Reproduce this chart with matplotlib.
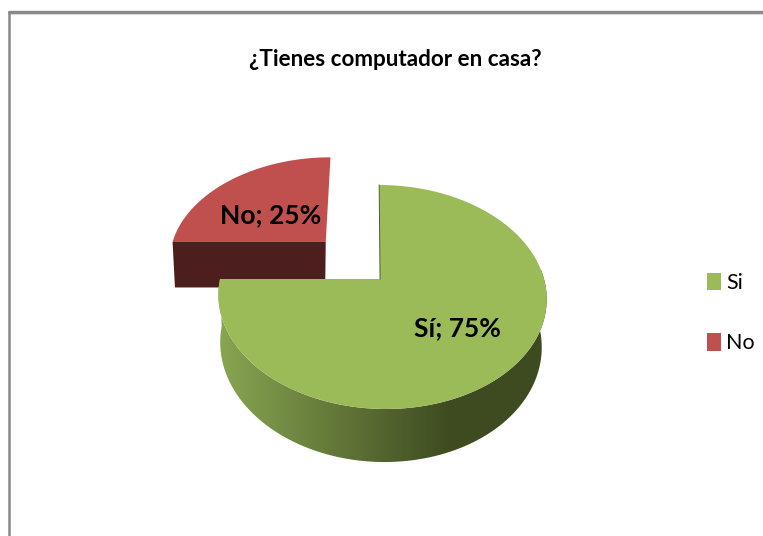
import numpy as np
import matplotlib
matplotlib.use("Agg")
import matplotlib.pyplot as plt
from matplotlib.patches import Patch, Polygon
from matplotlib.colors import LinearSegmentedColormap

titulo = "¿Tienes computador en casa?"
categorias = ["Si", "No"]
valores = [75, 25]
etiquetas = ["Sí; 75%", "No; 25%"]
colores = ["#9bbb59", "#c0504d"]

plt.rcParams['font.family'] = ['Lato', 'DejaVu Sans']

# perspectiva del disco
cx, cy = 382, 279
a, b = 162, 109.1
k, m = 0.1607, 0.0207
prof = 48.3
sesgo = 0.03


def proy(x, y, z=0.0):
    w = 1 + k*y + m*z
    sy = cy + (-b*y + prof*z)/w
    sx = cx + a*x/w + (sy - cy)*sesgo - 3*z
    return sx, sy


def arco(ini, fin, dx=0.0, dy=0.0, z=0.0, n=200):
    t = np.radians(np.linspace(ini, fin, n))
    return proy(dx + np.sin(t), dy + np.cos(t), z)


fig = plt.figure(figsize=(7.63, 5.36), dpi=100)
ax = fig.add_axes([0, 0, 1, 1])

# marco
ax.plot([9, 9], [536, 11], color="#888888", lw=1.8, solid_capstyle="butt")
ax.plot([8, 763], [11.5, 11.5], color="#888888", lw=2.4, solid_capstyle="butt")
ax.plot([11, 763], [13.5, 13.5], color="#d9d9d9", lw=0.8)

angulos = np.cumsum([0] + valores)/sum(valores)*360

# porcion No (separada)
dx, dy = -0.36, 0.359
ini, fin = angulos[1], angulos[2]
xa, ya = proy(dx, dy)
xb, yb = proy(dx, dy, 1)
xi, yi = arco(ini, ini, dx, dy, n=1)
xj, yj = arco(ini, ini, dx, dy, z=1, n=1)
ax.fill([xa, xi[0], xj[0], xb], [ya, yi[0], yj[0], yb], color="#4c1e1d", lw=0)
xs, ys = arco(ini, fin, dx, dy)
ax.fill(np.r_[xa, xs], np.r_[ya, ys], color=colores[1], lw=0)

# pared de la porcion Si, con degradado
ini, fin = angulos[0], angulos[1]
xt, yt = arco(ini, fin, n=400)
xf, yf = arco(ini, fin, z=1, n=400)
cmapa = LinearSegmentedColormap.from_list("pared", ["#87a451", "#3e4b20"])
grad = np.clip((np.arange(205, 555) - 222)/(450 - 222), 0, 1).reshape(1, -1)
im = ax.imshow(grad, cmap=cmapa, extent=(205, 555, 475, 270), aspect="auto", vmin=0, vmax=1, zorder=2)
borde = Polygon(np.c_[np.r_[xt, xf[::-1]], np.r_[yt, yf[::-1]]], closed=True,
                transform=ax.transData, fc="none", ec="none")
ax.add_patch(borde)
im.set_clip_path(borde)

xa, ya = proy(-0.012, 0)
ax.fill(np.r_[xa, xt], np.r_[ya, yt], color=colores[0], lw=0, zorder=3)
xi, yi = arco(ini, ini, n=1)
ax.plot([xa, xi[0]], [ya, yi[0]], color="#4f6129", lw=0.7, zorder=3)

ax.set_xlim(0, 763)
ax.set_ylim(536, 0)
ax.axis("off")

ax.text(395, 59, titulo, ha="center", va="center", fontsize=16.2, fontweight="bold", color="black", zorder=4)
ax.text(457, 328, etiquetas[0], ha="center", va="center", fontsize=19, fontweight="bold", color="black", zorder=4)
ax.text(271, 215, etiquetas[1], ha="center", va="center", fontsize=19, fontweight="bold", color="black", zorder=4)

asas = [Patch(facecolor=c, edgecolor="none") for c in colores]
ax.legend(asas, categorias, loc="center left", bbox_to_anchor=(707/763, 1 - 313/536),
          frameon=False, fontsize=15.5, handlelength=0.65, handleheight=0.84,
          handletextpad=0.25, labelspacing=1.9, borderpad=0, borderaxespad=0)

fig.savefig("out.png", dpi=100)
